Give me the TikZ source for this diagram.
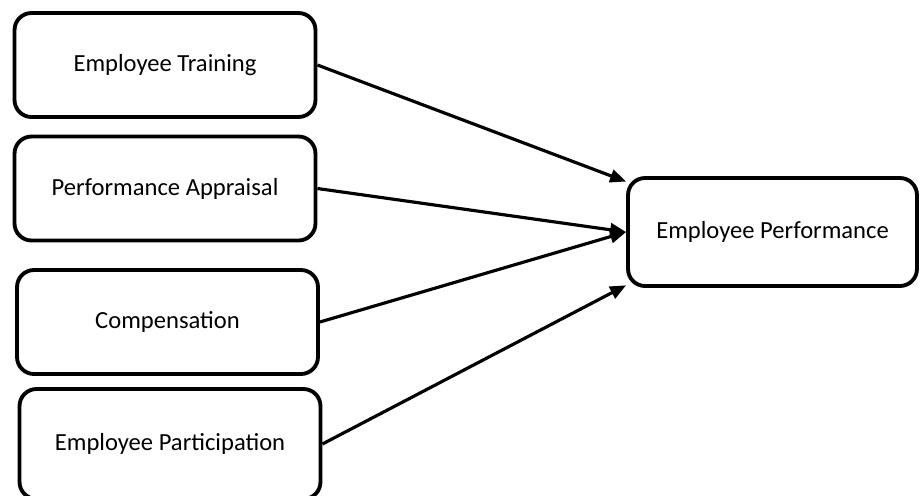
\documentclass[tikz,border=0pt]{standalone}
\usepackage{fontspec}
\setmainfont{Carlito}
\usepackage{tikz}
\usetikzlibrary{arrows.meta}

\begin{document}
\begin{tikzpicture}[x=0.02cm,y=-0.02cm,
  factor/.style={draw,line width=2.2pt,rounded corners=0.34cm,minimum width=6.02cm,minimum height=2.08cm,font=\fontsize{14}{16}\selectfont},
  link/.style={line width=1.8pt,-{Triangle[length=0.32cm,width=0.26cm]}}]
\useasboundingbox (0,0) rectangle (920,495);
\node[factor] (train) at (165,65) {Employee Training};
\node[factor] (apprais) at (165,188.5) {Performance Appraisal};
\node[factor] (comp) at (167.5,322) {Compensation};
\node[factor,minimum height=2.2cm] (partic) at (170,444) {Employee Participation};
\node[factor,minimum width=5.78cm,minimum height=2.16cm] (perf) at (772.5,232) {Employee Performance};
\draw[link] (train.east)--(perf.161);
\draw[link] (apprais.east)--(perf.west);
\draw[link] (comp.east)--(perf.west);
\draw[link] (partic.east)--(perf.200);
\end{tikzpicture}
\end{document}
